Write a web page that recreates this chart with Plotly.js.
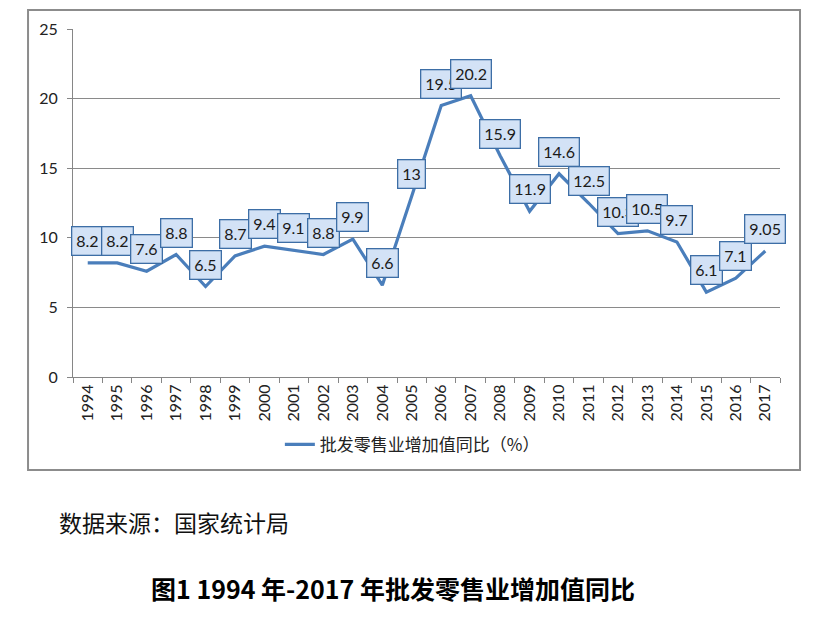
<!DOCTYPE html>
<html>
<head>
<meta charset="utf-8">
<script src="https://cdn.plot.ly/plotly-3.0.1.min.js"></script>
<style>html,body{margin:0;padding:0;background:#fff;}#chart{width:826px;height:622px;}</style>
</head>
<body>
<div id="chart"></div>
<script>
const years = ["1994","1995","1996","1997","1998","1999","2000","2001","2002","2003","2004","2005","2006","2007","2008","2009","2010","2011","2012","2013","2014","2015","2016","2017"];
const values = [8.2,8.2,7.6,8.8,6.5,8.7,9.4,9.1,8.8,9.9,6.6,13,19.5,20.2,15.9,11.9,14.6,12.5,10.3,10.5,9.7,6.1,7.1,9.05];
const labels = ["8.2","8.2","7.6","8.8","6.5","8.7","9.4","9.1","8.8","9.9","6.6","13","19.5","20.2","15.9","11.9","14.6","12.5","10.3","10.5","9.7","6.1","7.1","9.05"];
const seriesName = "批发零售业增加值同比（%）";
const sourceText = "数据来源：国家统计局";
const titleText = "图1 1994 年-2017 年批发零售业增加值同比";

const FONT = "Lato, 'Noto Sans', sans-serif";
const CJK = "'Noto Sans CJK SC', sans-serif";

const annotations = years.map((y, i) => ({
  x: i, y: values[i], xref: 'x', yref: 'y',
  text: labels[i], showarrow: true, arrowcolor: 'rgba(0,0,0,0)', arrowwidth: 0.1,
  ax: 0, ay: -22, standoff: 0,
  font: {family: FONT, size: 16, color: '#1a1a1a'},
  bgcolor: '#d3e2f6', bordercolor: '#3d6ea6', borderwidth: 1.3, borderpad: 4
}));
annotations.push({
  xref: 'paper', yref: 'paper', x: -0.0226, y: -0.4167, xanchor: 'left', yanchor: 'middle',
  text: sourceText, showarrow: false, font: {family: CJK, size: 23, color: '#111'}
});
annotations.push({
  xref: 'paper', yref: 'paper', x: 0.453, y: -0.606, xanchor: 'center', yanchor: 'middle',
  text: '<b>' + titleText + '</b>', showarrow: false, font: {family: CJK, size: 25, color: '#000'}
});

const trace = {
  x: years, y: values, type: 'scatter', mode: 'lines', name: seriesName,
  line: {color: '#4a7ebb', width: 3.2}
};

const layout = {
  width: 826, height: 622,
  margin: {l: 73, r: 46, t: 29, b: 245},
  paper_bgcolor: '#fff', plot_bgcolor: '#fff',
  showlegend: true,
  legend: {orientation: 'h', x: 0.48, y: -0.195, xanchor: 'center', yanchor: 'middle',
           font: {family: CJK, size: 17, color: '#222'}},
  xaxis: {type: 'category', range: [-0.5, years.length - 0.5], autorange: false,
          showgrid: false, showline: true, linecolor: '#868686', linewidth: 1,
          ticks: 'outside', tickson: 'boundaries', ticklen: 5, tickcolor: '#868686',
          tickangle: -90, tickfont: {family: FONT, size: 16, color: '#222'}, zeroline: false},
  yaxis: {range: [0, 25], autorange: false, dtick: 5, showgrid: true, gridcolor: '#8a8a8a', gridwidth: 1,
          showline: true, linecolor: '#868686', ticks: 'outside', ticklen: 5, tickcolor: '#868686',
          tickfont: {family: FONT, size: 16, color: '#222'}, zeroline: false, ticklabelstandoff: 6},
  shapes: [{type: 'rect', xref: 'paper', yref: 'paper', x0: -0.0636, x1: 1.0283, y0: -0.2672, y1: 1.0546,
            line: {color: '#8c8c8c', width: 2}, fillcolor: 'rgba(0,0,0,0)'}],
  annotations: annotations
};

Plotly.newPlot('chart', [trace], layout, {displayModeBar: false, staticPlot: true});
</script>
</body>
</html>
